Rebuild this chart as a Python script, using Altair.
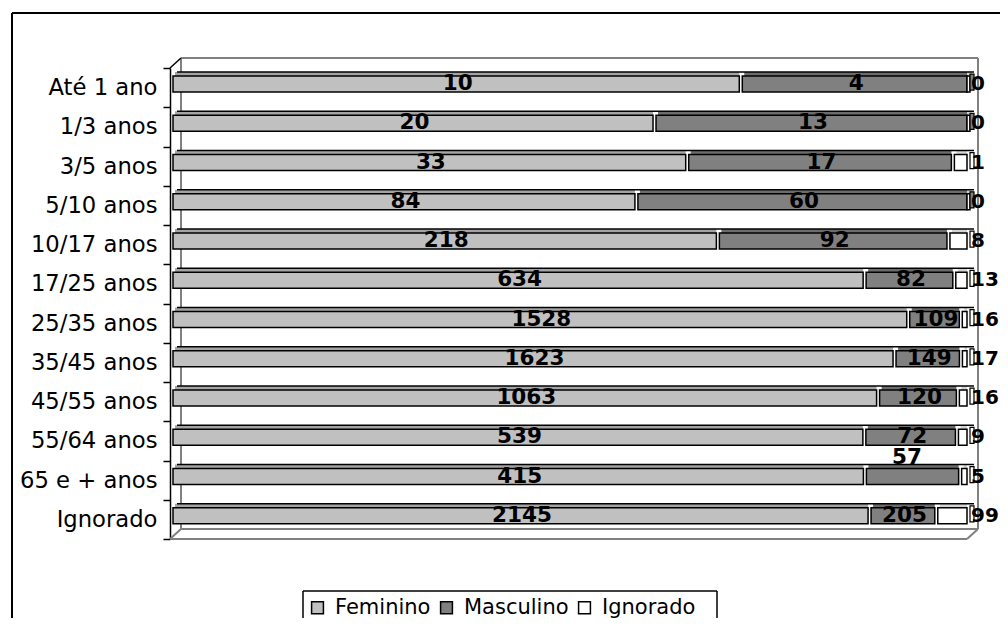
import altair as alt
import pandas as pd

categories = ["Até 1 ano", "1/3 anos", "3/5 anos", "5/10 anos", "10/17 anos",
              "17/25 anos", "25/35 anos", "35/45 anos", "45/55 anos",
              "55/64 anos", "65 e + anos", "Ignorado"]
feminino = [10, 20, 33, 84, 218, 634, 1528, 1623, 1063, 539, 415, 2145]
masculino = [4, 13, 17, 60, 92, 82, 109, 149, 120, 72, 57, 205]
ignorado = [0, 0, 1, 0, 8, 13, 16, 17, 16, 9, 5, 99]
series = ["Feminino", "Masculino", "Ignorado"]
fills = ["#c0c0c0", "#808080", "#ffffff"]
tops = ["#a4a4a4", "#6c6c6c", "#d4d4d4"]

rows = []
for i, c in enumerate(categories):
    for k, (s, vals) in enumerate(zip(series, [feminino, masculino, ignorado])):
        rows.append({"cat": c, "serie": s, "order": k, "value": vals[i]})
df = pd.DataFrame(rows)

end_rows = [{"cat": c, "serie": ("Ignorado" if ignorado[i] > 0 else "Masculino"),
             "zero": 0.0, "one": 1.0}
            for i, c in enumerate(categories)]
df_end = pd.DataFrame(end_rows)

W, H = 797, 471
FONT = "DejaVu Sans"

yscale = alt.Scale(domain=categories, paddingInner=0, paddingOuter=0)
xscale = alt.Scale(domain=[0, 1])

yaxis = alt.Axis(title=None, labelFont=FONT, labelFontSize=22.7, labelColor="black",
                 labelPadding=6, tickSize=7, tickColor="black", tickWidth=1.5,
                 domainColor="black", domainWidth=1.5, tickBand="extent", labelLimit=300,
                 grid=False)
Y = alt.Y("cat:N", sort=categories, scale=yscale, axis=yaxis)

base = alt.Chart(df).transform_stack(
    stack="value", groupby=["cat"], as_=["v0", "v1"], offset="normalize",
    sort=[alt.SortField("order", "ascending")]
).transform_calculate(mid="(datum.v0 + datum.v1) / 2")

top = base.mark_bar(size=4, yOffset=-13.6, xOffset=5, strokeWidth=0).encode(
    x=alt.X("v0:Q", scale=xscale, axis=None),
    x2="v1:Q",
    y=Y,
    fill=alt.Fill("serie:N", scale=alt.Scale(domain=series, range=tops), legend=None),
)

top_edge = alt.Chart(df_end).mark_rule(color="black", strokeWidth=1.5, xOffset=7,
                                       x2Offset=7, yOffset=-15.6).encode(
    x=alt.X("zero:Q", scale=xscale, axis=None),
    x2="one:Q",
    y=Y,
)

body = base.mark_bar(size=16, yOffset=-3.6, xOffset=3, stroke="black", strokeWidth=1.5).encode(
    x=alt.X("v0:Q", scale=xscale, axis=None),
    x2="v1:Q",
    y=Y,
    fill=alt.Fill("serie:N", scale=alt.Scale(domain=series, range=fills),
                  legend=alt.Legend(title=None, orient="none", legendX=137, legendY=529,
                                    direction="horizontal", padding=0,
                                    labelFont=FONT, labelFontSize=21, labelColor="black",
                                    symbolType="square", symbolSize=140,
                                    symbolStrokeColor="black", symbolStrokeWidth=1.5,
                                    symbolOffset=0, labelOffset=7, columnPadding=5)),
)

side = alt.Chart(df_end).mark_bar(size=16, yOffset=-5.6, xOffset=3, x2Offset=7,
                                  stroke="black", strokeWidth=1.2).encode(
    x=alt.X("one:Q", scale=xscale, axis=None),
    x2="one:Q",
    y=Y,
    fill=alt.Fill("serie:N", scale=alt.Scale(domain=series, range=fills), legend=None),
)

txt_style = dict(font=FONT, fontSize=21.5, fontWeight="bold", color="black", baseline="middle")

inner_labels = base.transform_filter(
    "datum.order < 2 && !(datum.cat == '65 e + anos' && datum.serie == 'Masculino')"
).mark_text(align="center", dx=3, dy=-3.6, **txt_style).encode(
    x=alt.X("mid:Q", scale=xscale, axis=None),
    y=Y,
    text="value:Q",
)

shifted_label = base.transform_filter(
    "datum.cat == '65 e + anos' && datum.serie == 'Masculino'"
).mark_text(align="center", dx=-4, dy=-22.6, **txt_style).encode(
    x=alt.X("mid:Q", scale=xscale, axis=None),
    y=Y,
    text="value:Q",
)

outer_style = dict(txt_style, fontSize=20)
outer_labels = base.transform_filter("datum.order == 2").mark_text(
    align="left", dx=4, dy=-3.6, **outer_style).encode(
    x=alt.X("v1:Q", scale=xscale, axis=None),
    y=Y,
    text="value:Q",
)

one = pd.DataFrame({"k": [0]})


def seg(x1, y1, x2, y2, color="#808080", width=2):
    return alt.Chart(one).mark_rule(color=color, strokeWidth=width).encode(
        x=alt.value(x1), y=alt.value(y1), x2=alt.value(x2), y2=alt.value(y2))


DX, DY = 11, -10
frame = [
    seg(DX, DY, W + DX, DY),
    seg(DX, DY, DX, H + DY),
    seg(W + DX, DY, W + DX, H + DY),
    seg(DX, H + DY, W + DX, H + DY),
    seg(0, H, W, H),
    seg(0, H, DX, H + DY),
    seg(W, H, W + DX, H + DY),
    seg(0, 0, DX, DY, color="black", width=1.5),
    seg(-158, -55, -158, 620, color="black", width=2),
    seg(-158, -55, 900, -55, color="black", width=2),
    # legend box
    seg(133, 523, 547, 523, color="black", width=1.5),
    seg(133, 523, 133, 600, color="black", width=1.5),
    seg(547, 523, 547, 600, color="black", width=1.5),
]

chart = alt.layer(*frame, top, top_edge, body, side, inner_labels, shifted_label,
                  outer_labels).resolve_scale(
    fill="independent"
).properties(
    width=W, height=H,
    autosize=alt.AutoSizeParams(type="none"),
    padding={"left": 162, "top": 60, "right": 33, "bottom": 79},
    background="white",
).configure_view(strokeWidth=0)

chart.save("out.html", embed_options={"renderer": "svg", "actions": False})
